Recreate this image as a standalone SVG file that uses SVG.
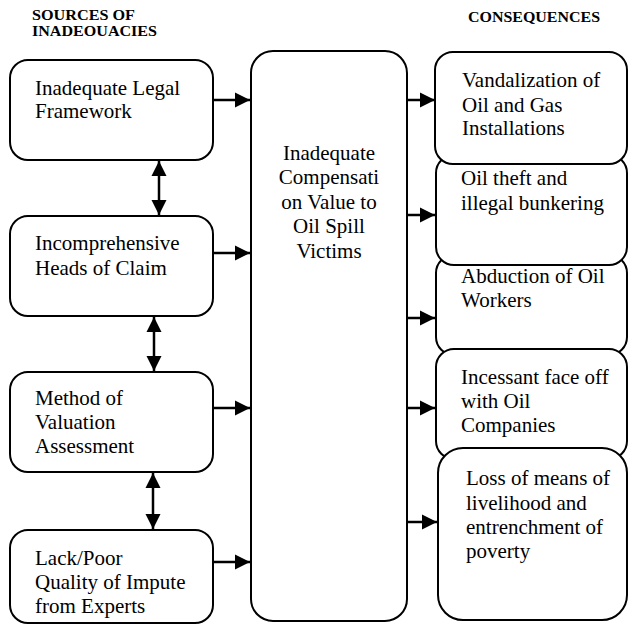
<svg xmlns="http://www.w3.org/2000/svg" width="629" height="626" viewBox="0 0 629 626">
<style>
.box{fill:#fff;stroke:#000;stroke-width:2}
.t{font-family:"Liberation Serif","Times New Roman",serif;font-size:21px;fill:#000}
.h{font-family:"Liberation Serif","Times New Roman",serif;font-size:14px;font-weight:bold;fill:#000}
.c{fill:none;stroke:#000;stroke-width:2.5}
</style>
<defs>
<marker id="ah" markerUnits="userSpaceOnUse" markerWidth="16" markerHeight="16" refX="15" refY="8" orient="auto-start-reverse">
<path d="M0,0.5 L15,8 L0,15.5 z" fill="#000"/>
</marker>
</defs>
<rect width="629" height="626" fill="#fff"/>
<g id="headers">
<text class="h" x="32" y="20" textLength="103" lengthAdjust="spacingAndGlyphs">SOURCES OF</text>
<text class="h" x="32" y="36" textLength="125" lengthAdjust="spacingAndGlyphs">INADEOUACIES</text>
<text class="h" x="468" y="22" textLength="132" lengthAdjust="spacingAndGlyphs">CONSEQUENCES</text>
</g>
<g id="n1"><rect class="box" x="10" y="60" width="203" height="100" rx="18"/>
<text class="t" x="35" y="95">Inadequate Legal</text><text class="t" x="35" y="118">Framework</text></g>
<g id="n2"><rect class="box" x="10" y="216" width="203" height="100" rx="18"/>
<text class="t" x="35" y="250">Incomprehensive</text><text class="t" x="35" y="275">Heads of Claim</text></g>
<g id="n3"><rect class="box" x="10" y="372" width="203" height="100" rx="18"/>
<text class="t" x="35" y="405">Method of</text><text class="t" x="35" y="429">Valuation</text><text class="t" x="35" y="453">Assessment</text></g>
<g id="n4"><rect class="box" x="10" y="530" width="203" height="93" rx="18"/>
<text class="t" x="35" y="565">Lack/Poor</text><text class="t" x="35" y="589">Quality of Impute</text><text class="t" x="35" y="613">from Experts</text></g>
<g id="center"><rect class="box" x="251" y="51" width="156" height="570" rx="22"/>
<text class="t" text-anchor="middle" x="329" y="160">Inadequate</text>
<text class="t" text-anchor="middle" x="329" y="184">Compensati</text>
<text class="t" text-anchor="middle" x="329" y="209">on Value to</text>
<text class="t" text-anchor="middle" x="329" y="233">Oil Spill</text>
<text class="t" text-anchor="middle" x="329" y="258">Victims</text></g>
<g id="r3"><rect class="box" x="436" y="255" width="191" height="100" rx="18"/>
<text class="t" x="461" y="283">Abduction of Oil</text><text class="t" x="461" y="307">Workers</text></g>
<g id="r2"><rect class="box" x="436" y="155" width="191" height="110" rx="18"/>
<text class="t" x="461" y="185">Oil theft and</text><text class="t" x="461" y="210">illegal bunkering</text></g>
<g id="r1"><rect class="box" x="435" y="52" width="192" height="112" rx="18"/>
<text class="t" x="462" y="87">Vandalization of</text><text class="t" x="462" y="112">Oil and Gas</text><text class="t" x="462" y="135">Installations</text></g>
<g id="r4"><rect class="box" x="436" y="349" width="191" height="110" rx="18"/>
<text class="t" x="461" y="384">Incessant face off</text><text class="t" x="461" y="408">with Oil</text><text class="t" x="461" y="432">Companies</text></g>
<g id="r5"><rect class="box" x="438" y="448" width="189" height="172" rx="25"/>
<text class="t" x="466" y="485">Loss of means of</text><text class="t" x="466" y="510">livelihood and</text><text class="t" x="466" y="534">entrenchment of</text><text class="t" x="466" y="558">poverty</text></g>
<g id="connectors">
<line class="c" x1="213" y1="100" x2="250" y2="100" marker-end="url(#ah)"/>
<line class="c" x1="213" y1="253" x2="250" y2="253" marker-end="url(#ah)"/>
<line class="c" x1="213" y1="408" x2="250" y2="408" marker-end="url(#ah)"/>
<line class="c" x1="213" y1="562" x2="250" y2="562" marker-end="url(#ah)"/>
<line class="c" x1="407" y1="100" x2="435" y2="100" marker-end="url(#ah)"/>
<line class="c" x1="407" y1="215" x2="435" y2="215" marker-end="url(#ah)"/>
<line class="c" x1="407" y1="318" x2="435" y2="318" marker-end="url(#ah)"/>
<line class="c" x1="407" y1="408" x2="435" y2="408" marker-end="url(#ah)"/>
<line class="c" x1="407" y1="522" x2="437" y2="522" marker-end="url(#ah)"/>
<line class="c" x1="159" y1="161" x2="159" y2="215" marker-start="url(#ah)" marker-end="url(#ah)"/>
<line class="c" x1="154" y1="317" x2="154" y2="371" marker-start="url(#ah)" marker-end="url(#ah)"/>
<line class="c" x1="153" y1="473" x2="153" y2="529" marker-start="url(#ah)" marker-end="url(#ah)"/>
</g>
</svg>
